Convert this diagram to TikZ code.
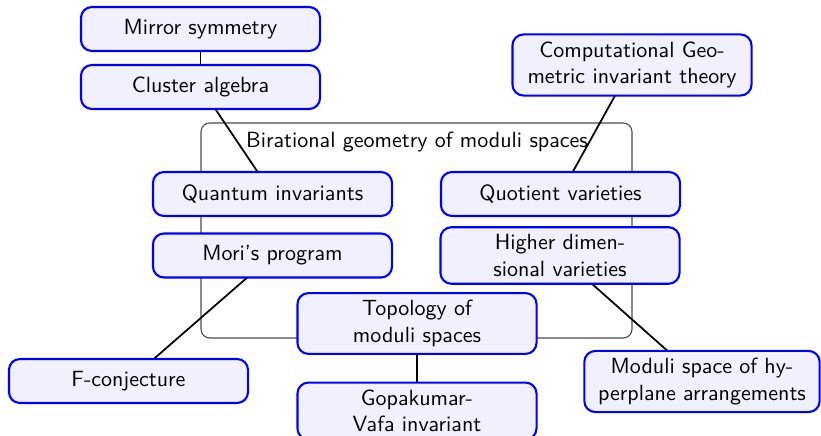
\documentclass[tikz,border=0pt]{standalone}
\usetikzlibrary{backgrounds}
\begin{document}
\begin{tikzpicture}[x=0.4545pt,y=-0.4545pt,
  font=\sffamily\fontsize{10pt}{12pt}\selectfont,
  topic/.style={draw=blue, fill=blue!6, line width=0.95pt, rounded corners=5pt,
    text width=102pt, align=center, minimum height=20pt, inner sep=0.3333em},
  link/.style={draw=black, line width=0.8pt},
  regionbox/.style={draw=black!70, rounded corners=4pt, line width=0.5pt}]
\useasboundingbox (0,0) rectangle (821,436);

\node[topic] (mirror) at (200.5,29) {Mirror symmetry};
\node[topic] (cluster) at (200.5,87) {Cluster algebra};
\node[topic] (comp) at (632,65) {Computational Geo-\\metric invariant theory};
\node[topic] (quantum) at (272.5,194) {Quantum invariants};
\node[topic] (quotient) at (560.5,194) {Quotient varieties};
\node[topic] (mori) at (272.5,255.5) {Mori's program};
\node[topic] (higher) at (560,255.5) {Higher dimen-\\sional varieties};
\node[topic] (topology) at (417,323.5) {Topology of\\moduli spaces};
\node[topic] (fconj) at (128.5,381) {F-conjecture};
\node[topic] (gopa) at (417,411) {Gopakumar-\\Vafa invariant};
\node[topic, text width=100.3pt] (moduli) at (702,381.5) {Moduli space of hy-\\perplane arrangements};

\begin{pgfonlayer}{background}
  \draw[regionbox] (201,123) rectangle (632,338);
  \node (regionlabel) at (417,142) {Birational geometry of moduli spaces};
  \draw[link] (mirror) -- (cluster);
  \draw[link] (cluster.center) -- (quantum.center);
  \draw[link] (comp.center) -- (quotient.center);
  \draw[link] (mori.center) -- (fconj.center);
  \draw[link] (higher.center) -- (moduli.center);
  \draw[link] (topology) -- (gopa);
\end{pgfonlayer}
\end{tikzpicture}
\end{document}
